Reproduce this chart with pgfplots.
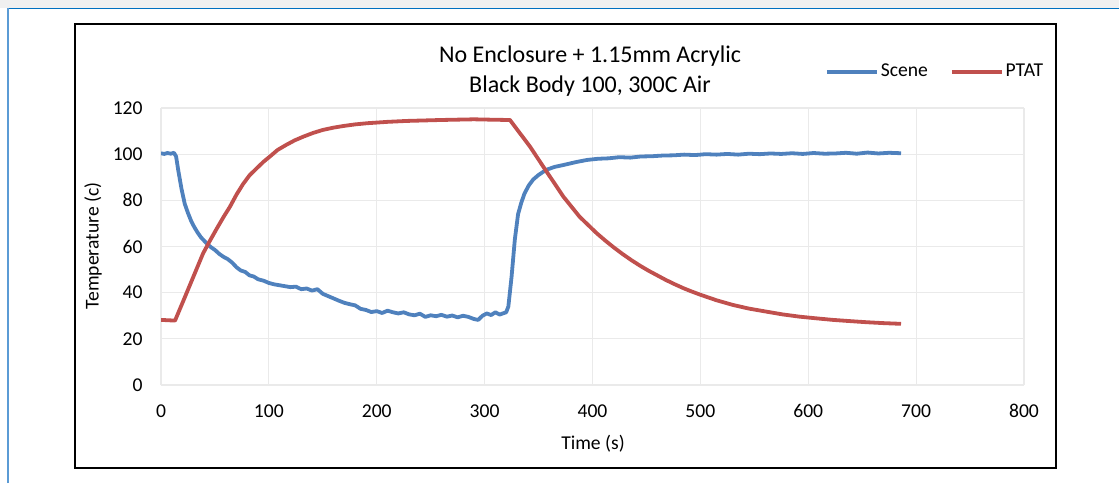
\documentclass[border=0pt]{standalone}
\usepackage{fontspec}
\setmainfont{Carlito}
\usepackage{pgfplots}
\pgfplotsset{compat=1.18}
\definecolor{sceneblue}{RGB}{79,129,189}
\definecolor{ptatred}{RGB}{192,80,77}
\definecolor{gridgray}{RGB}{234,234,234}
\definecolor{frameblue}{RGB}{0,112,192}
\definecolor{sideblue}{RGB}{91,155,213}

\begin{document}
\begin{tikzpicture}[x=0.5pt, y=0.5pt, font=\fontsize{9.8}{11}\selectfont]
% page frame, in pixel units of the reference
\path[use as bounding box] (0,0) rectangle (1119,483);
\fill[black!6] (0,475) rectangle (1119,483);
\draw[frameblue, line width=0.8pt] (8,474.5) -- (1119,474.5);
\draw[sideblue, line width=1pt] (8,0) -- (8,475);
\draw[line width=1.2pt] (75,15) rectangle (1056,459);

\begin{axis}[
  at={(80.5pt,49pt)}, anchor=south west,
  scale only axis, width=431.5pt, height=138.5pt,
  xmin=0, xmax=800, ymin=0, ymax=120,
  xtick={0,100,...,800}, ytick={0,20,...,120},
  major tick length=0pt,
  grid=major, grid style={gridgray, line width=0.6pt},
  separate axis lines, axis line style={draw=gridgray, line width=0.6pt},
  /pgf/number format/assume math mode=true,
  tick label style={font=\fontsize{9.8}{11}\selectfont, inner sep=0pt},
  yticklabel shift=9pt, xticklabel shift=9.5pt,
  legend style={at={(axis description cs:0.7694,1.13)}, anchor=west,
    draw=none, fill=none, inner sep=0pt, outer sep=0pt,
    font=\fontsize{9.8}{11}\selectfont, legend columns=-1,
    nodes={inner sep=1pt},
    /tikz/every even column/.append style={column sep=10pt}},
  legend image code/.code={\draw[#1] (0pt,0pt) -- (25pt,0pt);},
  every axis plot/.append style={line width=1.9pt, line join=round},
]
\addplot[sceneblue] coordinates {
(0,100.4)(3,100.1)(6,100.5)(9,100.2)(12,100.6)(14,99)(16,93)(19,85)(22,78.5)
(25,74.5)(28,71)(31,68.3)(34,66)(37,64)(40,62.5)(43,61)(46,59.8)(50,58.5)
(54,56.8)(58,55.5)(62,54.5)(66,53)(70,51)(74,49.6)(78,49)(82,47.5)(86,47)
(90,45.8)(95,45.2)(100,44.2)(105,43.6)(110,43.2)(115,42.8)(120,42.4)
(125,42.6)(130,41.5)(135,41.8)(140,40.9)(145,41.5)(150,39.5)(155,38.5)
(160,37.5)(165,36.5)(170,35.6)(175,35)(180,34.5)(185,33)(190,32.5)
(195,31.6)(200,32)(205,31.2)(210,32.2)(215,31.5)(220,31)(225,31.5)
(230,30.6)(235,30.2)(240,30.9)(245,29.5)(250,30.2)(255,29.8)(260,30.4)
(265,29.6)(270,30.1)(275,29.3)(280,30)(285,29.5)(290,28.6)(294,28.2)
(298,30)(302,31)(306,30.3)(310,31.5)(314,30.5)(318,31.2)(320,31.5)
(322,34)(325,47)(328,63)(331,74)(334,79)(337,83)(341,86.5)(345,89)
(350,91)(357,93.2)(365,94.5)(373,95.3)(385,96.6)(395,97.5)(405,98)
(415,98.2)(425,98.7)(435,98.5)(445,99)(455,99.1)(465,99.4)(475,99.5)
(485,99.8)(495,99.6)(505,100)(515,99.8)(525,100.1)(535,99.8)(545,100.2)
(555,100)(565,100.3)(575,100.1)(585,100.4)(595,100.1)(605,100.5)
(615,100.2)(625,100.3)(635,100.6)(645,100.2)(655,100.7)(665,100.3)
(675,100.6)(686,100.4)
};
\addlegendentry{Scene}
\addplot[ptatred] coordinates {
(0,28.2)(13,27.9)(21,36.8)(30,46.9)(39,57)(45,62.2)(52,68)(58,72.8)
(64,77.3)(70,82.5)(76,87)(82,90.8)(89,94)(95,96.7)(101,99)(108,101.8)
(116,104)(124,106)(132,107.6)(141,109.2)(150,110.5)(160,111.5)(169,112.2)
(180,112.9)(191,113.4)(210,114)(228,114.4)(259,114.8)(290,115.1)
(310,114.9)(323.5,114.8)(342,103.3)(357.5,92.4)(373,81.6)(388,72.9)
(404,65.7)(412,62.5)(420,59.5)(428,56.7)(436,54.1)(444,51.7)(452,49.5)
(460,47.5)(468,45.5)(476,43.7)(484,42)(492,40.5)(500,39.1)(515,36.7)
(530,34.7)(545,33.1)(561,31.8)(576,30.6)(592,29.6)(607,28.9)(623,28.2)
(638,27.7)(654,27.2)(670,26.8)(686,26.5)
};
\addlegendentry{PTAT}
\end{axis}

\node[rotate=90] at (93,237) {Temperature (c)};
\node at (593,39) {Time (s)};
\node[align=center, font=\fontsize{12}{15}\selectfont] at (590,412)
  {No Enclosure + 1.15mm Acrylic\\Black Body 100, 300C Air};
\end{tikzpicture}
\end{document}
